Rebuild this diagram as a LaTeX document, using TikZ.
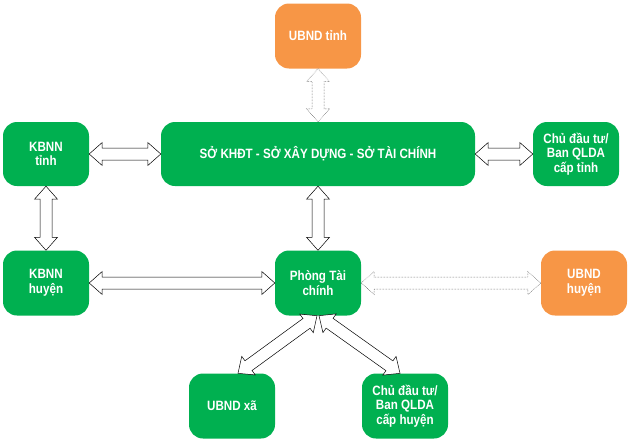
\documentclass[tikz,border=0pt]{standalone}
\usepackage{fontspec}
\setmainfont{Liberation Sans}[FakeStretch=0.86]
\usetikzlibrary{calc}
\definecolor{boxgreen}{HTML}{00B050}
\definecolor{boxorange}{HTML}{F79646}
\newcommand{\dblarrow}[3][]{%
  \draw[arr,#1] (#2)
    -- ($(#2)!13pt!(#3)!11.5pt!90:(#3)$)
    -- ($(#2)!13pt!(#3)!6pt!90:(#3)$)
    -- ($(#3)!13pt!(#2)!6pt!-90:(#2)$)
    -- ($(#3)!13pt!(#2)!11.5pt!-90:(#2)$)
    -- (#3)
    -- ($(#3)!13pt!(#2)!11.5pt!90:(#2)$)
    -- ($(#3)!13pt!(#2)!6pt!90:(#2)$)
    -- ($(#2)!13pt!(#3)!6pt!-90:(#3)$)
    -- ($(#2)!13pt!(#3)!11.5pt!-90:(#3)$)
    -- cycle;}
\begin{document}
\begin{tikzpicture}[x=1pt,y=-1pt,
  box/.style={fill=boxgreen, rounded corners=14pt, text=white, align=center,
    font=\fontsize{13.5}{14.5}\selectfont\bfseries, inner sep=0pt,
    minimum width=86pt, minimum height=65pt},
  obox/.style={box, fill=boxorange},
  arr/.style={draw=black, fill=white, line width=0.5pt, line join=miter},
  dots/.style={draw=black!75, densely dotted}]
\useasboundingbox (0,0) rectangle (628,442);

\node[obox] (ubndt) at (318,36) {UBND tỉnh};
\node[box, minimum width=314pt, minimum height=64pt] (so) at (318,154) {SỞ KHĐT - SỞ XÂY DỰNG - SỞ TÀI CHÍNH};
\node[box, minimum height=64pt] (kbt) at (46,154) {KBNN\\tỉnh};
\node[box, minimum height=64pt] (cdtt) at (576,154) {Chủ đầu tư/\\Ban QLDA\\cấp tỉnh};
\node[box] (kbh) at (46,283) {KBNN\\huyện};
\node[box] (phong) at (318,283) {Phòng Tài\\chính};
\node[obox] (ubndh) at (584,283) {UBND\\huyện};
\node[box] (xa) at (232,406) {UBND xã};
\node[box] (cdth) at (405,406) {Chủ đầu tư/\\Ban QLDA\\cấp huyện};

\coordinate (p1) at ([xshift=-1pt]phong.south);
\coordinate (p2) at ([xshift=1pt]phong.south);
\coordinate (x1) at ([xshift=6pt]xa.north);
\coordinate (c1) at ([xshift=-5pt]cdth.north);

\foreach \a/\b in {kbt.east/so.west, so.east/cdtt.west, kbt.south/kbh.north,
  so.south/phong.north, kbh.east/phong.west, p1/x1, p2/c1}
  \dblarrow{\a}{\b};
\foreach \a/\b in {ubndt.south/so.north, phong.east/ubndh.west}
  \dblarrow[dots]{\a}{\b};
\end{tikzpicture}
\end{document}
